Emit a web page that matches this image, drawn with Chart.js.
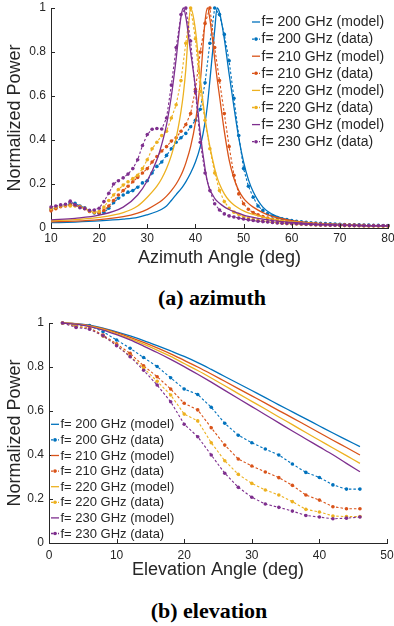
<!DOCTYPE html>
<html>
<head>
<meta charset="utf-8">
<script src="https://cdn.jsdelivr.net/npm/chart.js@4.4.1/dist/chart.umd.min.js"></script>
<style>
  html, body { margin: 0; padding: 0; background: #fff; }
  body { width: 394px; height: 626px; position: relative; overflow: hidden; }
  canvas { position: absolute; left: 0; }
  #azChart { top: 0; }
  #elChart { top: 310px; }
  .caption {
    position: absolute; width: 300px; text-align: center; line-height: 24px;
    font-family: "Liberation Serif", "Times New Roman", serif;
    font-weight: bold; font-size: 22px; color: #000;
  }
</style>
</head>
<body>
<canvas id="azChart" width="394" height="270"></canvas>
<div class="caption" style="top:286px; left:62px">(a) azimuth</div>
<canvas id="elChart" width="394" height="272"></canvas>
<div class="caption" style="top:599px; left:59px">(b) elevation</div>
<script>
// ---- azimuth data ----
const azAngle = [10, 11, 12, 13, 14, 15, 16, 17, 18, 19,
  20, 21, 22, 23, 24, 25, 26, 27, 28, 29,
  30, 31, 32, 33, 34, 35, 36, 37, 38, 39,
  40, 41, 42, 43, 44, 45, 46, 47, 48, 49,
  50, 51, 52, 53, 54, 55, 56, 57, 58, 59,
  60, 61, 62, 63, 64, 65, 66, 67, 68, 69,
  70, 71, 72, 73, 74, 75, 76, 77, 78, 79, 80];

const azData200 = [0.085, 0.092, 0.1, 0.105, 0.11, 0.112, 0.1, 0.092, 0.078, 0.068,
  0.066, 0.07, 0.09, 0.115, 0.135, 0.15, 0.163, 0.17, 0.185, 0.205,
  0.215, 0.25, 0.28, 0.3, 0.33, 0.36, 0.39, 0.41, 0.43, 0.46,
  0.49, 0.54, 0.66, 0.84, 1.0, 0.97, 0.88, 0.76, 0.59, 0.42,
  0.27, 0.19, 0.14, 0.1, 0.08, 0.065, 0.055, 0.048, 0.042, 0.038,
  0.034, 0.031, 0.028, 0.026, 0.024, 0.022, 0.021, 0.02, 0.019, 0.018,
  0.017, 0.016, 0.015, 0.015, 0.014, 0.013, 0.013, 0.012, 0.012, 0.011, 0.011];
const azData210 = [0.078, 0.088, 0.097, 0.1, 0.105, 0.103, 0.098, 0.09, 0.075, 0.07,
  0.068, 0.08, 0.1, 0.125, 0.15, 0.17, 0.19, 0.21, 0.23, 0.25,
  0.27, 0.3, 0.325, 0.35, 0.37, 0.395, 0.41, 0.44, 0.47, 0.52,
  0.63, 0.8, 0.93, 1.0, 0.82, 0.67, 0.52, 0.37, 0.24, 0.155,
  0.11, 0.085, 0.07, 0.06, 0.052, 0.045, 0.04, 0.036, 0.032, 0.029,
  0.027, 0.025, 0.023, 0.021, 0.02, 0.019, 0.018, 0.017, 0.016, 0.015,
  0.015, 0.014, 0.013, 0.013, 0.012, 0.012, 0.011, 0.011, 0.01, 0.01, 0.01];
const azData220 = [0.088, 0.095, 0.1, 0.103, 0.1, 0.1, 0.095, 0.088, 0.077, 0.072,
  0.075, 0.095, 0.125, 0.15, 0.175, 0.195, 0.21, 0.225, 0.24, 0.27,
  0.31, 0.36, 0.39, 0.42, 0.44, 0.5, 0.56, 0.67, 0.84, 1.0,
  0.86, 0.62, 0.49, 0.36, 0.25, 0.17, 0.12, 0.09, 0.072, 0.062,
  0.052, 0.045, 0.04, 0.035, 0.032, 0.029, 0.026, 0.024, 0.022, 0.02,
  0.019, 0.018, 0.017, 0.016, 0.015, 0.014, 0.013, 0.013, 0.012, 0.012,
  0.011, 0.011, 0.01, 0.01, 0.01, 0.009, 0.009, 0.009, 0.009, 0.008, 0.008];
const azData230 = [0.095, 0.1, 0.105, 0.108, 0.122, 0.105, 0.092, 0.088, 0.08, 0.082,
  0.09, 0.12, 0.158, 0.2, 0.215, 0.228, 0.245, 0.27, 0.31, 0.375,
  0.425, 0.449, 0.452, 0.45, 0.5, 0.65, 0.82, 0.97, 1.0, 0.85,
  0.62, 0.39, 0.25, 0.17, 0.11, 0.082, 0.064, 0.055, 0.05, 0.045,
  0.041, 0.037, 0.034, 0.031, 0.029, 0.027, 0.025, 0.023, 0.022, 0.021,
  0.02, 0.019, 0.018, 0.017, 0.016, 0.015, 0.014, 0.014, 0.013, 0.013,
  0.012, 0.012, 0.011, 0.011, 0.011, 0.01, 0.01, 0.01, 0.01, 0.01, 0.01];

const azModelAngle = [10, 15, 20, 25, 28, 30, 32, 33, 34, 35, 36, 37, 37.5, 38, 39,
  40, 41, 42, 42.5, 43, 44, 44.5, 45, 46, 47, 48, 49, 50, 51, 52, 54, 56, 58, 60, 65, 70, 75, 80];
const azModel200 = [0.024, 0.027, 0.032, 0.04, 0.048, 0.06, 0.075, 0.085, 0.1, 0.125, 0.152, 0.178, 0.193, 0.21, 0.25,
  0.3, 0.37, 0.48, 0.56, 0.67, 0.9, 1.0, 0.98, 0.86, 0.7, 0.55, 0.41, 0.3, 0.22, 0.165, 0.095, 0.062, 0.044, 0.033, 0.02, 0.014, 0.011, 0.009];
const azModel210 = [0.028, 0.031, 0.038, 0.052, 0.068, 0.085, 0.11, 0.125, 0.145, 0.17, 0.2, 0.24, 0.265, 0.295, 0.37,
  0.48, 0.66, 0.94, 1.0, 0.95, 0.77, 0.68, 0.6, 0.44, 0.31, 0.225, 0.17, 0.135, 0.112, 0.095, 0.07, 0.053, 0.042, 0.034, 0.021, 0.015, 0.011, 0.009];
const azModel220 = [0.033, 0.038, 0.048, 0.07, 0.1, 0.14, 0.19, 0.225, 0.27, 0.33, 0.41, 0.53, 0.61, 0.72, 1.0,
  0.9, 0.68, 0.5, 0.43, 0.37, 0.27, 0.23, 0.2, 0.155, 0.125, 0.105, 0.09, 0.078, 0.069, 0.062, 0.05, 0.041, 0.034, 0.029, 0.02, 0.015, 0.011, 0.009];
const azModel230 = [0.037, 0.044, 0.058, 0.095, 0.15, 0.215, 0.31, 0.38, 0.47, 0.6, 0.77, 0.96, 1.0, 0.96, 0.8,
  0.64, 0.43, 0.27, 0.21, 0.175, 0.135, 0.122, 0.112, 0.096, 0.084, 0.074, 0.066, 0.059, 0.053, 0.048, 0.04, 0.034, 0.029, 0.025, 0.018, 0.014, 0.011, 0.009];

// ---- elevation data ----
const elAngle = [2, 4, 6, 8, 10, 12, 14, 16, 18, 20, 22, 24, 26, 28, 30, 32, 34, 36, 38, 40, 42, 44, 46];

const elModel200 = [1.0, 0.997, 0.99, 0.977, 0.96, 0.941, 0.92, 0.897, 0.873, 0.848, 0.82, 0.789, 0.757, 0.725, 0.693, 0.661, 0.628, 0.596, 0.564, 0.532, 0.5, 0.469, 0.438];
const elModel210 = [1.0, 0.996, 0.988, 0.974, 0.956, 0.935, 0.912, 0.887, 0.86, 0.83, 0.8, 0.768, 0.735, 0.702, 0.669, 0.636, 0.602, 0.569, 0.535, 0.501, 0.467, 0.434, 0.4];
const elModel220 = [1.0, 0.996, 0.986, 0.971, 0.951, 0.929, 0.904, 0.877, 0.848, 0.816, 0.784, 0.75, 0.715, 0.679, 0.644, 0.609, 0.573, 0.538, 0.502, 0.467, 0.432, 0.397, 0.362];
const elModel230 = [1.0, 0.995, 0.984, 0.968, 0.947, 0.923, 0.895, 0.866, 0.835, 0.802, 0.767, 0.731, 0.694, 0.657, 0.62, 0.583, 0.546, 0.509, 0.473, 0.437, 0.401, 0.362, 0.324];

const elData200 = [1.0, 0.99, 0.988, 0.96, 0.923, 0.885, 0.843, 0.802, 0.751, 0.7, 0.675, 0.617, 0.544, 0.49, 0.456, 0.427, 0.4, 0.359, 0.321, 0.298, 0.264, 0.245, 0.245];
const elData210 = [1.0, 0.985, 0.978, 0.945, 0.905, 0.862, 0.805, 0.756, 0.7, 0.635, 0.605, 0.524, 0.445, 0.382, 0.35, 0.323, 0.297, 0.262, 0.218, 0.195, 0.165, 0.156, 0.156];
const elData220 = [1.0, 0.985, 0.975, 0.94, 0.9, 0.85, 0.795, 0.735, 0.673, 0.586, 0.555, 0.456, 0.374, 0.312, 0.271, 0.241, 0.218, 0.188, 0.153, 0.141, 0.123, 0.12, 0.12];
const elData230 = [1.0, 0.98, 0.972, 0.942, 0.897, 0.847, 0.785, 0.718, 0.642, 0.54, 0.483, 0.4, 0.317, 0.253, 0.208, 0.177, 0.162, 0.145, 0.125, 0.118, 0.11, 0.113, 0.118];

const freqLabels = ['200', '210', '220', '230'];
const seriesColors = ['#0072BD', '#D95319', '#EDB120', '#7E2F8E'];
const axisColor = '#262626';

Chart.defaults.font.family = '"Liberation Sans", Arial, Helvetica, sans-serif';
Chart.defaults.color = axisColor;

function toPoints(xs, ys) {
  return xs.map((x, i) => ({ x: x, y: ys[i] }));
}

// model (solid) + data (dotted with dots) for every frequency, in legend order
function buildDatasets(modelX, models, dataX, datas) {
  const sets = [];
  freqLabels.forEach((f, i) => {
    sets.push({
      label: 'f= ' + f + ' GHz (model)',
      data: toPoints(modelX, models[i]),
      borderColor: seriesColors[i],
      backgroundColor: seriesColors[i],
      borderWidth: 1.3,
      pointRadius: 0,
      cubicInterpolationMode: 'monotone',
      order: 8 - 2 * i,
      clip: 6
    });
    sets.push({
      label: 'f= ' + f + ' GHz (data)',
      data: toPoints(dataX, datas[i]),
      borderColor: seriesColors[i],
      backgroundColor: seriesColors[i],
      borderWidth: 1.1,
      borderDash: [2.5, 2],
      pointRadius: 1.8,
      pointBorderWidth: 0,
      order: 7 - 2 * i,
      clip: 6
    });
  });
  return sets;
}

// matlab style ticks pointing into the plot
const inwardTicks = {
  id: 'inwardTicks',
  afterDatasetsDraw(chart) {
    const { ctx, scales: { x, y } } = chart;
    ctx.save();
    ctx.strokeStyle = axisColor;
    ctx.lineWidth = 1;
    ctx.beginPath();
    x.ticks.forEach(t => {
      const px = Math.round(x.getPixelForValue(t.value)) + 0.5;
      ctx.moveTo(px, x.top);
      ctx.lineTo(px, x.top - 4);
    });
    y.ticks.forEach(t => {
      const py = Math.round(y.getPixelForValue(t.value)) + 0.5;
      ctx.moveTo(y.right, py);
      ctx.lineTo(y.right + 4, py);
    });
    ctx.stroke();
    ctx.restore();
  }
};

// legend drawn at a fixed spot inside the axes, like the matlab one
const lineLegend = {
  id: 'lineLegend',
  afterDraw(chart, args, opts) {
    const ctx = chart.ctx;
    ctx.save();
    ctx.font = opts.fontSize + 'px "Liberation Sans", Arial, sans-serif';
    ctx.textBaseline = 'middle';
    chart.data.datasets.forEach((ds, i) => {
      const y = opts.y + i * opts.rowHeight;
      const x = opts.x;
      ctx.strokeStyle = ds.borderColor;
      ctx.lineWidth = 1.3;
      ctx.setLineDash(ds.borderDash ? [2, 1.5] : []);
      ctx.beginPath();
      ctx.moveTo(x, y);
      ctx.lineTo(x + opts.lineLength, y);
      ctx.stroke();
      ctx.setLineDash([]);
      if (ds.pointRadius > 0) {
        ctx.fillStyle = ds.borderColor;
        ctx.beginPath();
        ctx.arc(x + opts.lineLength / 2, y, 1.8, 0, Math.PI * 2);
        ctx.fill();
      }
      ctx.fillStyle = axisColor;
      ctx.fillText(ds.label, x + opts.lineLength + 1.5, y + 0.5);
    });
    ctx.restore();
  }
};

function makeScales(xMin, xMax, xTitle, yWidth, xHeight, xPad) {
  return {
    x: {
      type: 'linear',
      min: xMin,
      max: xMax,
      ticks: { stepSize: 10, padding: xPad, maxRotation: 0, color: axisColor, font: { size: 12 } },
      grid: { display: false, drawTicks: false, tickLength: 0 },
      border: { color: axisColor, width: 1 },
      title: {
        display: true, text: xTitle, color: axisColor,
        font: { size: 18, lineHeight: 1 }, padding: { top: 0, bottom: 3 }
      },
      afterFit: s => { s.height = xHeight; s.paddingLeft = 0; s.paddingRight = 0; }
    },
    y: {
      min: 0,
      max: 1,
      ticks: {
        stepSize: 0.2, padding: 5, color: axisColor, font: { size: 12 },
        callback: v => String(Number(v.toFixed(1)))
      },
      grid: { display: false, drawTicks: false, tickLength: 0 },
      border: { color: axisColor, width: 1 },
      title: {
        display: true, text: 'Normalized Power', color: axisColor,
        font: { size: 18, lineHeight: 1 }, padding: { top: 6, bottom: 0 }
      },
      afterFit: s => { s.width = yWidth; s.paddingTop = 0; s.paddingBottom = 0; }
    }
  };
}

new Chart(document.getElementById('azChart'), {
  type: 'line',
  data: {
    datasets: buildDatasets(azModelAngle, [azModel200, azModel210, azModel220, azModel230],
      azAngle, [azData200, azData210, azData220, azData230])
  },
  options: {
    responsive: false,
    animation: false,
    devicePixelRatio: 1,
    layout: { padding: { top: 8, right: 6, left: 0, bottom: 0 } },
    scales: makeScales(10, 80, 'Azimuth Angle (deg)', 51, 42, 3),
    plugins: {
      legend: { display: false },
      tooltip: { enabled: false },
      lineLegend: { x: 252, y: 22, rowHeight: 17.1, lineLength: 8, fontSize: 14 }
    }
  },
  plugins: [inwardTicks, lineLegend]
});

new Chart(document.getElementById('elChart'), {
  type: 'line',
  data: {
    datasets: buildDatasets(elAngle, [elModel200, elModel210, elModel220, elModel230],
      elAngle, [elData200, elData210, elData220, elData230])
  },
  options: {
    responsive: false,
    animation: false,
    devicePixelRatio: 1,
    layout: { padding: { top: 13, right: 7, left: 0, bottom: 0 } },
    scales: makeScales(0, 50, 'Elevation Angle (deg)', 49, 39, 5),
    plugins: {
      legend: { display: false },
      tooltip: { enabled: false },
      lineLegend: { x: 51, y: 114.3, rowHeight: 15.6, lineLength: 8, fontSize: 13 }
    }
  },
  plugins: [inwardTicks, lineLegend]
});
</script>
</body>
</html>
